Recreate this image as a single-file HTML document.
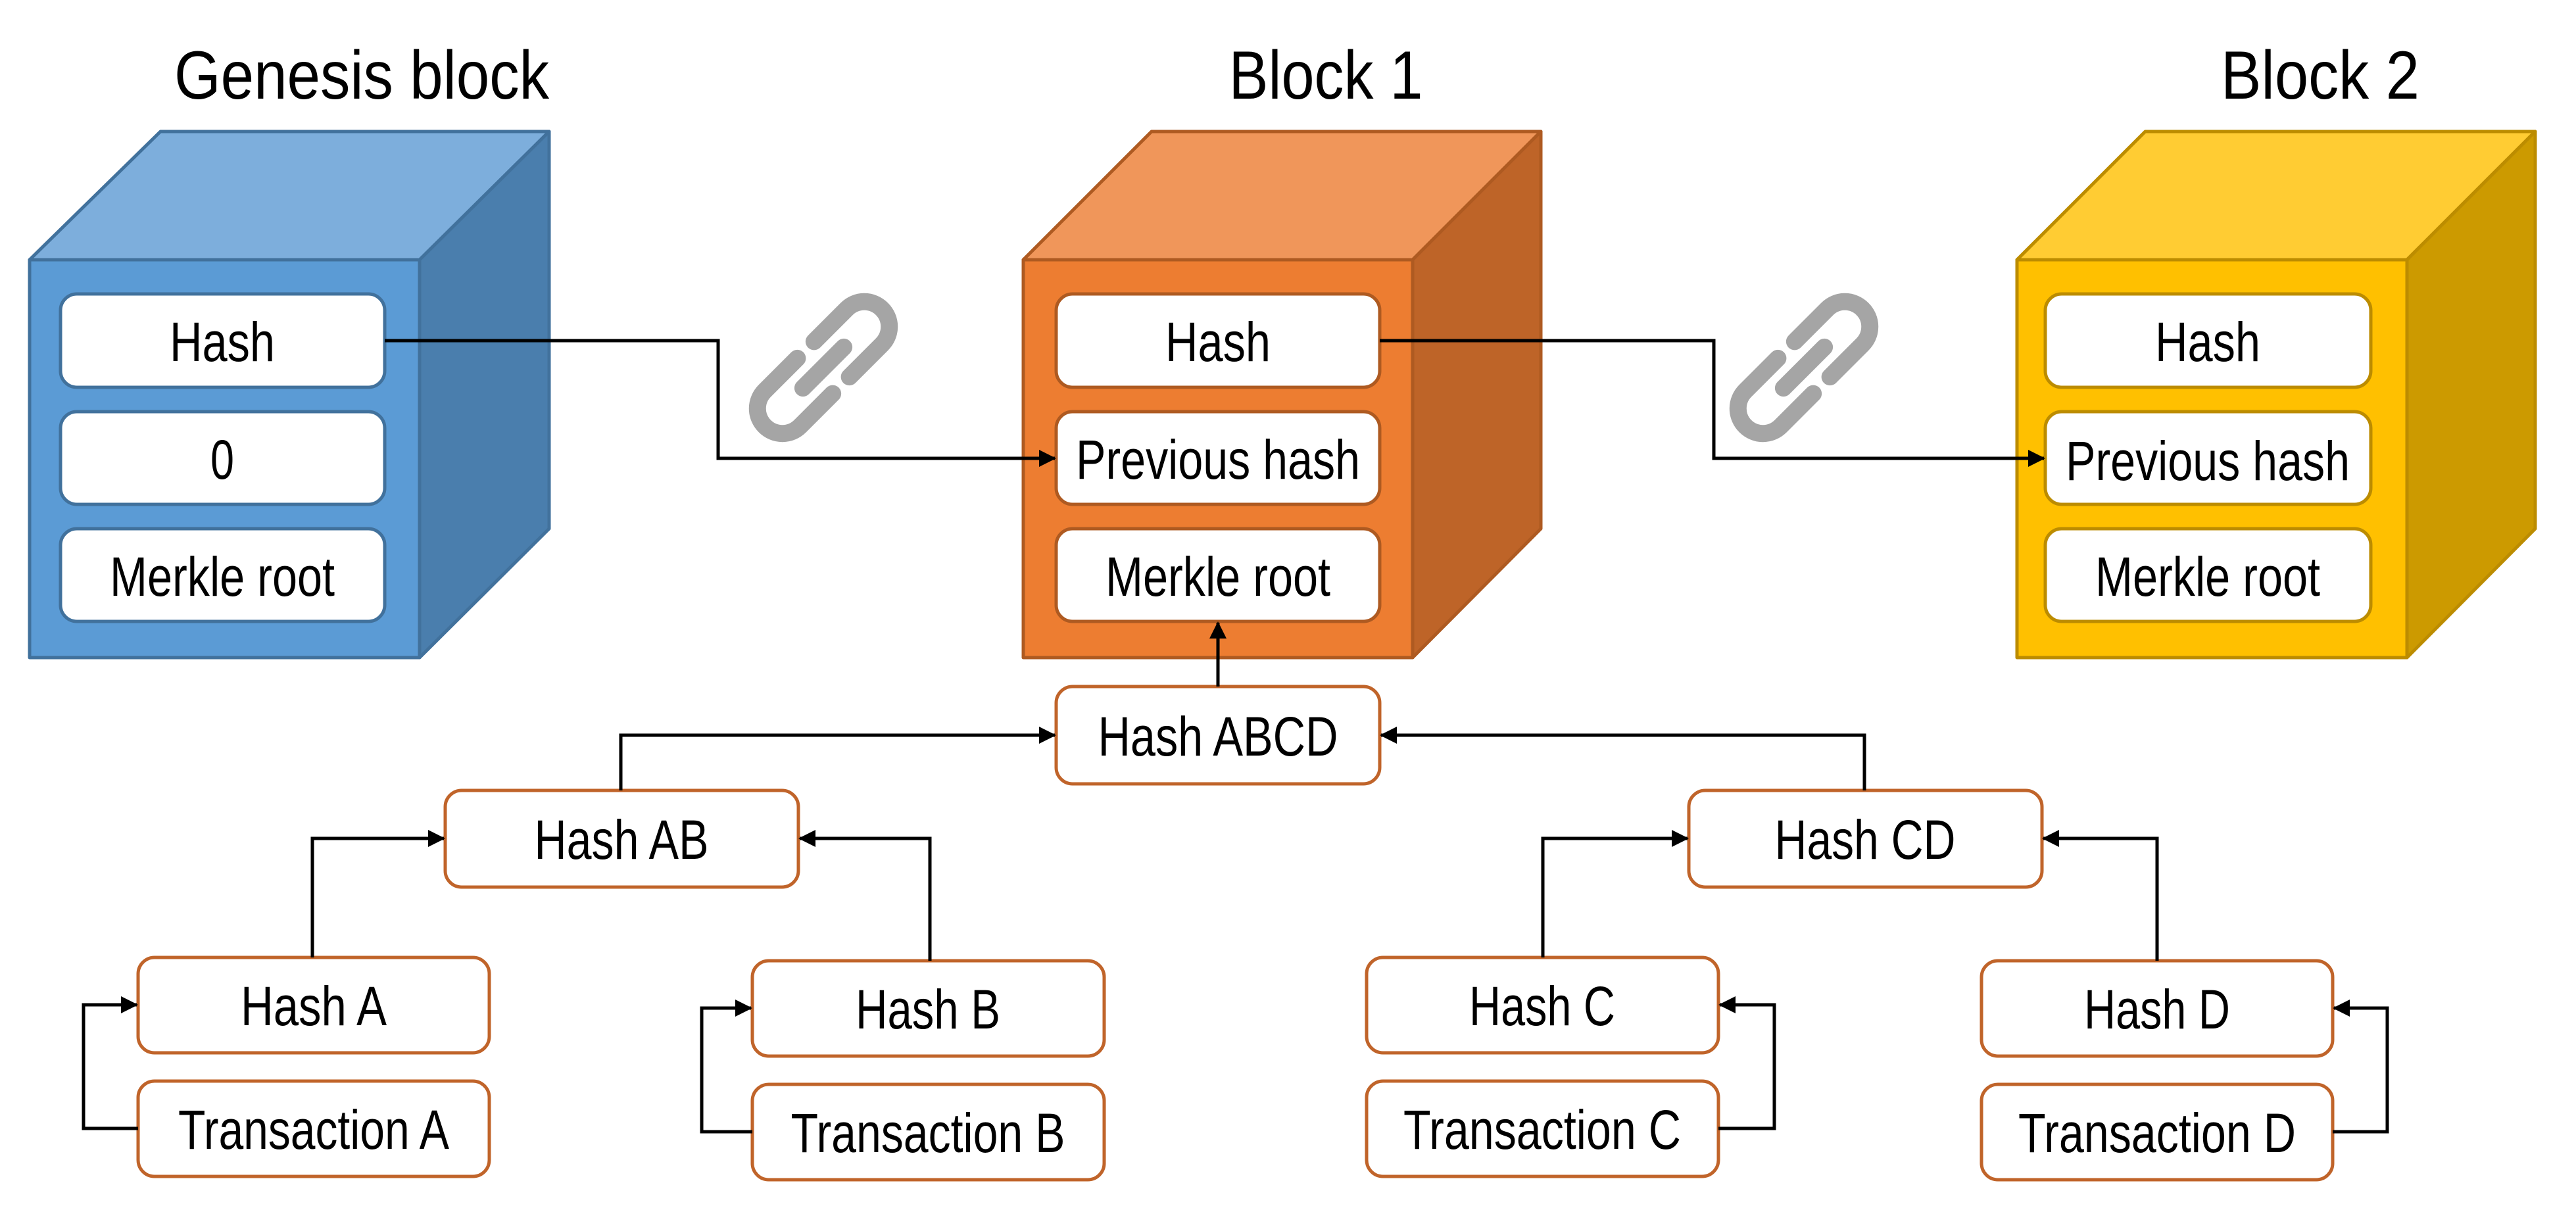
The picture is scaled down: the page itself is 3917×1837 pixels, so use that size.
<!DOCTYPE html>
<html><head><meta charset="utf-8"><style>
html,body{margin:0;padding:0;background:#fff;}
svg{display:block;}
text{font-family:"Liberation Sans",sans-serif;text-anchor:middle;fill:#000;}
</style></head><body>
<svg width="3917" height="1837" viewBox="0 0 3917 1837" xmlns="http://www.w3.org/2000/svg">
<defs>
<marker id="ar" markerWidth="26" markerHeight="26" refX="24" refY="13" orient="auto" markerUnits="userSpaceOnUse" viewBox="0 0 26 26">
<path d="M0,0 L26,13 L0,26 z" fill="#000"/>
</marker>
<g id="chain" fill="none" stroke="#A5A5A5" stroke-width="26" stroke-linecap="round">
<path d="M18,-38 H88 A38,38 0 0 1 88,38 H18"/>
<path d="M-18,-38 H-88 A38,38 0 0 0 -88,38 H-18"/>
<line x1="-44" y1="0" x2="44" y2="0"/>
</g>
</defs>

<!-- Titles -->
<text x="550" y="150" font-size="104" textLength="570" lengthAdjust="spacingAndGlyphs">Genesis block</text>
<text x="2016" y="150" font-size="104" textLength="295" lengthAdjust="spacingAndGlyphs">Block 1</text>
<text x="3528" y="150" font-size="104" textLength="302" lengthAdjust="spacingAndGlyphs">Block 2</text>

<!-- Genesis cube -->
<g stroke="#41719C" stroke-width="5" stroke-linejoin="round">
<polygon points="45,395 244,200 835,200 638,395" fill="#7DAEDC"/>
<polygon points="638,395 835,200 835,804 638,1000" fill="#4A7EAD"/>
<rect x="45" y="395" width="593" height="605" fill="#5B9BD5"/>
<rect x="92" y="447" width="493" height="142" rx="25" fill="#fff"/>
<rect x="92" y="626" width="493" height="141" rx="25" fill="#fff"/>
<rect x="92" y="804" width="493" height="141" rx="25" fill="#fff"/>
</g>
<text x="338" y="549" font-size="84" textLength="160" lengthAdjust="spacingAndGlyphs">Hash</text>
<text x="338" y="728" font-size="84" textLength="36" lengthAdjust="spacingAndGlyphs">0</text>
<text x="338" y="906" font-size="84" textLength="342" lengthAdjust="spacingAndGlyphs">Merkle root</text>

<!-- Block 1 cube -->
<g stroke="#AE5A21" stroke-width="5" stroke-linejoin="round">
<polygon points="1556,395 1751,200 2343,200 2148,395" fill="#F0965A"/>
<polygon points="2148,395 2343,200 2343,804 2148,1000" fill="#BE6428"/>
<rect x="1556" y="395" width="592" height="605" fill="#ED7D31"/>
<rect x="1606" y="447" width="492" height="142" rx="25" fill="#fff"/>
<rect x="1606" y="626" width="492" height="141" rx="25" fill="#fff"/>
<rect x="1606" y="804" width="492" height="141" rx="25" fill="#fff"/>
</g>
<text x="1852" y="549" font-size="84" textLength="160" lengthAdjust="spacingAndGlyphs">Hash</text>
<text x="1852" y="728" font-size="84" textLength="432" lengthAdjust="spacingAndGlyphs">Previous hash</text>
<text x="1852" y="906" font-size="84" textLength="342" lengthAdjust="spacingAndGlyphs">Merkle root</text>

<!-- Block 2 cube -->
<g stroke="#BC8C00" stroke-width="5" stroke-linejoin="round">
<polygon points="3067,395 3262,200 3855,200 3660,395" fill="#FFCC33"/>
<polygon points="3660,395 3855,200 3855,804 3660,1000" fill="#CC9A00"/>
<rect x="3067" y="395" width="593" height="605" fill="#FFC000"/>
<rect x="3110" y="447" width="495" height="142" rx="25" fill="#fff"/>
<rect x="3110" y="626" width="495" height="141" rx="25" fill="#fff"/>
<rect x="3110" y="804" width="495" height="141" rx="25" fill="#fff"/>
</g>
<text x="3357" y="549" font-size="84" textLength="160" lengthAdjust="spacingAndGlyphs">Hash</text>
<text x="3357" y="730" font-size="84" textLength="432" lengthAdjust="spacingAndGlyphs">Previous hash</text>
<text x="3357" y="906" font-size="84" textLength="342" lengthAdjust="spacingAndGlyphs">Merkle root</text>

<!-- chain icons -->
<use href="#chain" transform="translate(1252,559) rotate(-45)"/>
<use href="#chain" transform="translate(2743,559) rotate(-45)"/>

<!-- Merkle tree boxes -->
<g stroke="#C0642A" stroke-width="5" fill="#fff">
<rect x="1606" y="1044" width="492" height="148" rx="25"/>
<rect x="677" y="1202" width="537" height="147" rx="25"/>
<rect x="2568" y="1202" width="537" height="147" rx="25"/>
<rect x="210" y="1456" width="534" height="145" rx="25"/>
<rect x="210" y="1644" width="534" height="145" rx="25"/>
<rect x="1144" y="1461" width="535" height="145" rx="25"/>
<rect x="1144" y="1649" width="535" height="145" rx="25"/>
<rect x="2078" y="1456" width="535" height="145" rx="25"/>
<rect x="2078" y="1644" width="535" height="145" rx="25"/>
<rect x="3013" y="1461" width="534" height="145" rx="25"/>
<rect x="3013" y="1649" width="534" height="145" rx="25"/>
</g>
<g font-size="84">
<text x="1852" y="1149" textLength="365" lengthAdjust="spacingAndGlyphs">Hash ABCD</text>
<text x="945" y="1306" textLength="265" lengthAdjust="spacingAndGlyphs">Hash AB</text>
<text x="2836" y="1306" textLength="275" lengthAdjust="spacingAndGlyphs">Hash CD</text>
<text x="477" y="1559" textLength="222" lengthAdjust="spacingAndGlyphs">Hash A</text>
<text x="477" y="1747" textLength="412" lengthAdjust="spacingAndGlyphs">Transaction A</text>
<text x="1411" y="1564" textLength="220" lengthAdjust="spacingAndGlyphs">Hash B</text>
<text x="1411" y="1752" textLength="417" lengthAdjust="spacingAndGlyphs">Transaction B</text>
<text x="2345" y="1559" textLength="222" lengthAdjust="spacingAndGlyphs">Hash C</text>
<text x="2345" y="1747" textLength="422" lengthAdjust="spacingAndGlyphs">Transaction C</text>
<text x="3280" y="1564" textLength="222" lengthAdjust="spacingAndGlyphs">Hash D</text>
<text x="3280" y="1752" textLength="422" lengthAdjust="spacingAndGlyphs">Transaction D</text>
</g>

<!-- Connectors -->
<g fill="none" stroke="#000" stroke-width="5">
<path d="M585,518 H1092 V697 H1604" marker-end="url(#ar)"/>
<path d="M2098,518 H2606 V697 H3108" marker-end="url(#ar)"/>
<path d="M1852,1044 V947" marker-end="url(#ar)"/>
<path d="M944,1202 V1118 H1604" marker-end="url(#ar)"/>
<path d="M2835,1202 V1118 H2100" marker-end="url(#ar)"/>
<path d="M475,1456 V1275 H675" marker-end="url(#ar)"/>
<path d="M1414,1461 V1275 H1216" marker-end="url(#ar)"/>
<path d="M2346,1456 V1275 H2566" marker-end="url(#ar)"/>
<path d="M3280,1461 V1275 H3107" marker-end="url(#ar)"/>
<path d="M210,1716 H127 V1528 H208" marker-end="url(#ar)"/>
<path d="M1144,1721 H1067 V1533 H1142" marker-end="url(#ar)"/>
<path d="M2613,1716 H2698 V1528 H2615" marker-end="url(#ar)"/>
<path d="M3547,1721 H3630 V1533 H3549" marker-end="url(#ar)"/>
</g>
</svg>
</body></html>
